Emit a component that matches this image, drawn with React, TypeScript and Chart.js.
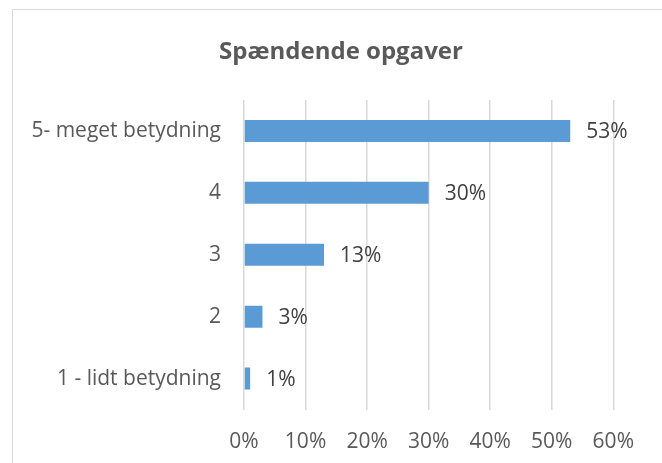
import React, { useEffect, useRef } from "react";
import { Chart, registerables } from "chart.js";

Chart.register(...registerables);

const chartTitle = "Spændende opgaver";
const categories = ["5- meget betydning", "4", "3", "2", "1 - lidt betydning"];
const values = [53, 30, 13, 3, 1];
const xMin = 0;
const xMax = 60;
const xStep = 10;

const FONT = "'Open Sans', sans-serif";
const TEXT = "#595959";
const LABEL = "#404040";
const GRID = "#D9D9D9";
const BAR = "#5B9BD5";

const labelPlugin = {
  id: "barLabels",
  afterDatasetsDraw(chart: any) {
    const ctx = chart.ctx;
    const meta = chart.getDatasetMeta(0);
    ctx.save();
    ctx.font = `21px ${FONT}`;
    ctx.fillStyle = LABEL;
    ctx.textAlign = "left";
    ctx.textBaseline = "middle";
    meta.data.forEach((bar: any, i: number) => {
      ctx.fillText(values[i] + "%", bar.x + 16, bar.y + 1);
    });
    ctx.restore();
  },
};

const titlePlugin = {
  id: "customTitle",
  afterDraw(chart: any) {
    const ctx = chart.ctx;
    ctx.save();
    ctx.font = `bold 24px ${FONT}`;
    ctx.fillStyle = TEXT;
    ctx.textAlign = "center";
    ctx.textBaseline = "middle";
    ctx.fillText(chartTitle, 341, 52);
    ctx.restore();
  },
};

export default function App() {
  const ref = useRef<HTMLCanvasElement | null>(null);

  useEffect(() => {
    if (!ref.current) return;
    const chart = new Chart(ref.current, {
      type: "bar",
      data: {
        labels: categories,
        datasets: [
          {
            data: values,
            backgroundColor: BAR,
            borderWidth: 0,
            categoryPercentage: 1,
            barPercentage: 22 / 62,
          },
        ],
      },
      plugins: [labelPlugin, titlePlugin],
      options: {
        indexAxis: "y",
        animation: false,
        responsive: false,
        maintainAspectRatio: false,
        layout: { padding: { top: 100, right: 48.7, left: 0, bottom: 0 } },
        plugins: {
          legend: { display: false },
          title: { display: false },
          tooltip: { enabled: false },
        },
        scales: {
          x: {
            min: xMin,
            max: xMax,
            ticks: {
              stepSize: xStep,
              callback: (v: any) => v + "%",
              color: TEXT,
              font: { family: FONT, size: 21 },
              padding: 20,
            },
            grid: { color: GRID, lineWidth: 1.5, drawTicks: false },
            border: { display: false },
            afterFit: (s: any) => {
              s.height = 53.5;
            },
          },
          y: {
            ticks: {
              color: TEXT,
              font: { family: FONT, size: 21 },
              padding: 23,
            },
            grid: { display: false, drawTicks: false },
            border: { display: false },
            afterFit: (s: any) => {
              s.width = 244;
            },
          },
        },
      },
    });
    return () => chart.destroy();
  }, []);

  return (
    <div style={{ position: "fixed", left: 0, top: 0, width: 662, height: 463, background: "#fff", overflow: "hidden" }}>
      <div
        style={{
          position: "absolute",
          left: 12,
          top: 9,
          width: 700,
          height: 500,
          border: `1.5px solid ${GRID}`,
          boxSizing: "border-box",
        }}
      />
      <canvas ref={ref} width={662} height={463} style={{ position: "absolute", left: 0, top: 0 }} />
    </div>
  );
}
